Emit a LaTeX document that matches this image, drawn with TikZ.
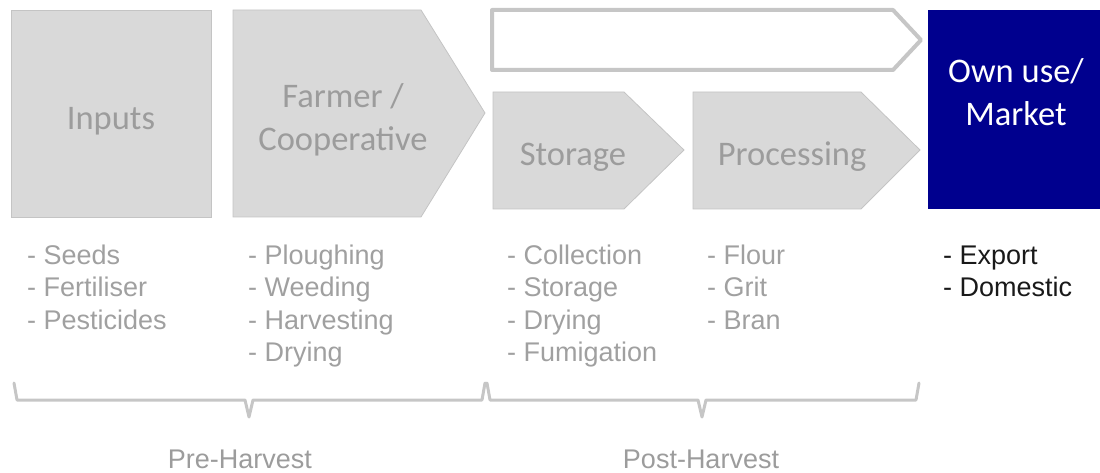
\documentclass[tikz,border=0pt]{standalone}
\usepackage{fontspec}
\setmainfont{Liberation Sans}
\newfontfamily\labelfont{Carlito}
\definecolor{boxfill}{HTML}{D9D9D9}
\definecolor{boxline}{HTML}{C4C4C4}
\definecolor{labelgray}{HTML}{9C9C9C}
\definecolor{listgray}{HTML}{A0A0A0}
\definecolor{bracegray}{HTML}{C6C6C6}
\definecolor{marketblue}{RGB}{0,0,142}
\begin{document}
\begin{tikzpicture}[x=1pt,y=-1pt,
  stagebox/.style={fill=boxfill,draw=boxline,line width=0.8pt},
  stagelabel/.style={font=\labelfont\fontsize{34.5}{43}\selectfont,text=labelgray,inner sep=0pt,align=center,anchor=base},
  itemlist/.style={font=\fontsize{27}{32.5}\selectfont,text=listgray,inner sep=0pt,align=left,anchor=base west},
  phase/.style={font=\fontsize{27}{30}\selectfont,text=labelgray,inner sep=0pt,anchor=base},
  bracket/.style={draw=bracegray,line width=3pt,line join=round,line cap=round}]
\useasboundingbox (0,0) rectangle (1100,473);

% stage shapes
\draw[stagebox] (11,10) rectangle (211,217);
\draw[stagebox] (233,10) -- (421,10) -- (485,113) -- (421,217) -- (233,217) -- cycle;
\draw[draw=bracegray,line width=4pt,fill=white,line join=round] (492,10) -- (893,10) -- (921,40) -- (893,70) -- (492,70) -- cycle;
\draw[stagebox] (493,92) -- (624,92) -- (684,150) -- (624,209) -- (493,209) -- cycle;
\draw[stagebox] (693,92) -- (861,92) -- (920,150) -- (861,209) -- (693,209) -- cycle;
\fill[marketblue] (928,10) rectangle (1100,209);

% stage labels (multi-line nodes sit on the baseline of their last line)
\node[stagelabel] (inputs) at (111,130) {Inputs};
\node[stagelabel] (farmer) at (343,151) {Farmer /\\Cooperative};
\node[stagelabel] (storage) at (573,166) {Storage};
\node[stagelabel] (processing) at (792,166) {Processing};
\node[stagelabel,text=white] (market) at (1016,126) {Own use/\\Market};

% activities under each stage
\node[itemlist] (inputlist) at (27,329) {- Seeds\\- Fertiliser\\- Pesticides};
\node[itemlist] (farmlist) at (248,361.5) {- Ploughing\\- Weeding\\- Harvesting\\- Drying};
\node[itemlist] (storelist) at (507,361.5) {- Collection\\- Storage\\- Drying\\- Fumigation};
\node[itemlist] (proclist) at (707,329) {- Flour\\- Grit\\- Bran};
\node[itemlist,text=black!90] (marketlist) at (943,296.5) {- Export\\- Domestic};

% phase brackets
\coordinate (pre0) at (14,383);
\coordinate (pre1) at (485,383);
\coordinate (post0) at (487,383);
\coordinate (post1) at (919,383);
\draw[bracket] (pre0) -- (17,400) -- (245,400) -- (249,417) -- (253,400) -- (482,400) -- (pre1);
\draw[bracket] (post0) -- (490,400) -- (698,400) -- (702,417) -- (706,400) -- (916,400) -- (post1);

\node[phase] (pre) at (240,468) {Pre-Harvest};
\node[phase] (post) at (701,468) {Post-Harvest};
\end{tikzpicture}
\end{document}
